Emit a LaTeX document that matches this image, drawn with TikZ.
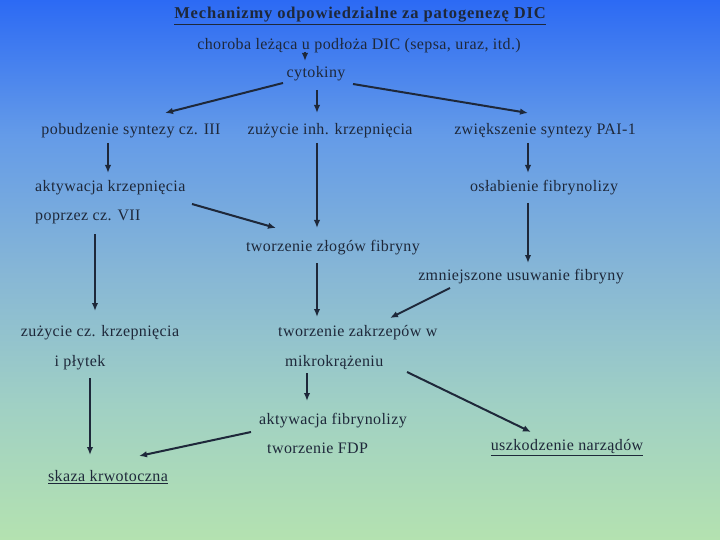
\documentclass[tikz,border=0pt]{standalone}
\usepackage{fontspec}
\setmainfont{Liberation Serif}
\newfontfamily\lblfont[LetterSpace=2.5]{Liberation Serif}
\newfontfamily\ttlfont[LetterSpace=5]{Liberation Serif}
\usetikzlibrary{arrows.meta}
\definecolor{bgtop}{RGB}{44,106,244}
\definecolor{bgup}{RGB}{100,155,232}
\definecolor{bgmid}{RGB}{134,182,214}
\definecolor{bglow}{RGB}{160,208,196}
\definecolor{bgbot}{RGB}{180,226,176}
\definecolor{ink}{RGB}{30,40,58}
\pgfdeclareverticalshading{bgshade}{100bp}{color(0bp)=(bgbot); color(25bp)=(bgbot); color(37.5bp)=(bglow); color(50bp)=(bgmid); color(62.5bp)=(bgup); color(75bp)=(bgtop); color(100bp)=(bgtop)}
\tikzset{
  lbl/.style={inner sep=0pt, text=ink, font=\lblfont\fontsize{16}{18}\selectfont},
  ttl/.style={inner sep=0pt, text=ink, font=\ttlfont\fontsize{16.5}{18}\selectfont\bfseries},
  arr/.style={draw=ink, line width=2pt, -{Latex[length=8pt,width=6.5pt]}}
}
\begin{document}
\begin{tikzpicture}[x=1pt,y=-1pt]
\shade[shading=bgshade] (0,0) rectangle (720,540);
\useasboundingbox (0,0) rectangle (720,540);

\node[ttl] (title) at (360,16) {\underline{Mechanizmy odpowiedzialne za patogenezę DIC}};
\node[lbl] (cause) at (359,46) {choroba leżąca u podłoża DIC (sepsa, uraz, itd.)};
\node[lbl] (cyt) at (316,74) {cytokiny};
\node[lbl] (pob) at (131,131) {pobudzenie syntezy cz. III};
\node[lbl] (zuz) at (330,131) {zużycie inh. krzepnięcia};
\node[lbl] (zwi) at (545,131) {zwiększenie syntezy PAI-1};
\node[lbl,anchor=west] (akt) at (35,188) {aktywacja krzepnięcia};
\node[lbl,anchor=west] (pop) at (35,217) {poprzez cz. VII};
\node[lbl] (osl) at (544,188) {osłabienie fibrynolizy};
\node[lbl] (zlo) at (333,248) {tworzenie złogów fibryny};
\node[lbl] (zmn) at (521,277) {zmniejszone usuwanie fibryny};
\node[lbl] (zcz) at (100,333) {zużycie cz. krzepnięcia};
\node[lbl] (plt) at (80,363) {i płytek};
\node[lbl,anchor=west] (zak) at (278,333) {tworzenie zakrzepów w};
\node[lbl,anchor=west] (mik) at (285,363) {mikrokrążeniu};
\node[lbl,anchor=west] (afib) at (259,421) {aktywacja fibrynolizy};
\node[lbl,anchor=west] (fdp) at (267,448) {tworzenie FDP};
\node[lbl] (usz) at (567,448) {\underline{uszkodzenie narządów}};
\node[lbl] (skz) at (108,477) {\underline{skaza krwotoczna}};

\draw[arr] ([shift={(-54,6)}]cause.center) -- ([shift={(-11,-13)}]cyt.center);
\draw[arr] ([shift={(-33,9)}]cyt.center) -- ([shift={(34,-18)}]pob.center);
\draw[arr] ([shift={(1,16)}]cyt.center) -- ([shift={(-13,-18)}]zuz.center);
\draw[arr] ([shift={(37,10)}]cyt.center) -- ([shift={(-17,-18)}]zwi.center);
\draw[arr] ([shift={(-23,12)}]pob.center) -- ([shift={(73,-15)}]akt.west);
\draw[arr] ([shift={(-17,12)}]zwi.center) -- ([shift={(-16,-15)}]osl.center);
\draw[arr] ([shift={(-13,12)}]zuz.center) -- ([shift={(-16,-20)}]zlo.center);
\draw[arr] ([shift={(157,16)}]akt.west) -- ([shift={(-57,-20)}]zlo.center);
\draw[arr] ([shift={(-16,15)}]osl.center) -- ([shift={(7,-14)}]zmn.center);
\draw[arr] ([shift={(60,17)}]pop.west) -- ([shift={(-5,-22)}]zcz.center);
\draw[arr] ([shift={(-16,15)}]zlo.center) -- ([shift={(39,-16)}]zak.west);
\draw[arr] ([shift={(-71,11)}]zmn.center) -- ([shift={(112,-15)}]zak.west);
\draw[arr] ([shift={(10,15)}]plt.center) -- ([shift={(-18,-22)}]skz.center);
\draw[arr] ([shift={(22,10)}]mik.west) -- ([shift={(48,-20)}]afib.west);
\draw[arr] ([shift={(122,9)}]mik.west) -- ([shift={(-36,-16)}]usz.center);
\draw[arr] ([shift={(-8,11)}]afib.west) -- ([shift={(31,-21)}]skz.center);
\end{tikzpicture}
\end{document}
